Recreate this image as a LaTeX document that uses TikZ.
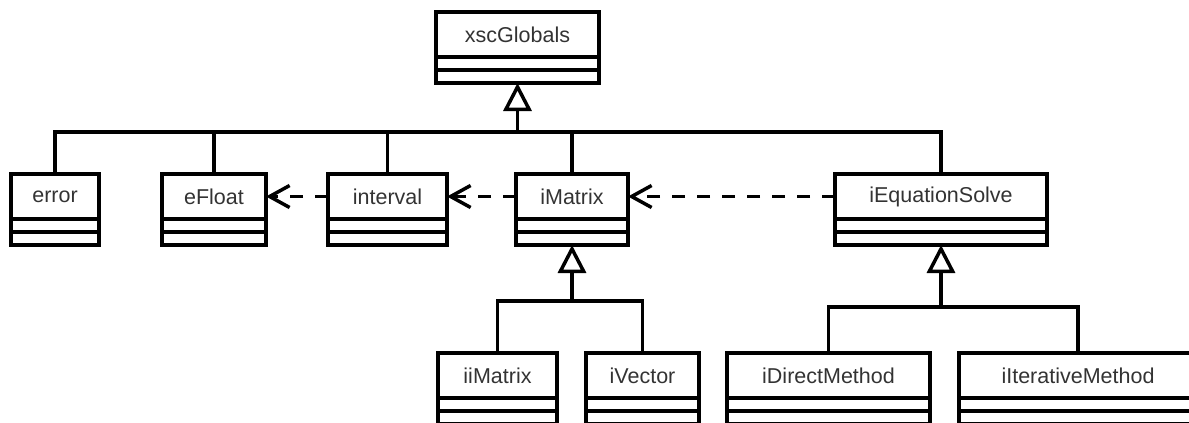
\documentclass[tikz,border=0pt]{standalone}
\usepackage{fontspec}
\setmainfont{Liberation Sans}
\usetikzlibrary{arrows.meta,calc}

\tikzset{
  cls/.style={draw, line width=3.5pt, minimum height=45pt, inner sep=0pt,
    outer sep=0pt, anchor=north west, text=black!80,
    font=\fontsize{21.5}{26}\selectfont},
  part/.style={line width=3.5pt},
  link/.style={line width=3.5pt},
  gen/.style={line width=3.5pt, -{Triangle[open, length=28pt, width=28pt]}},
  dep/.style={line width=3.5pt, dash pattern=on 13pt off 12pt,
    -{Straight Barb[length=20pt, width=22pt]}},
}

% class box: name, left, top, width, label
\newcommand{\umlclass}[5]{%
  \node[cls, minimum width=#4] (#1) at (#2,#3) {#5};
  \draw[part] (#1.south west) rectangle ($(#1.south east)+(0,26)$);
  \draw[part] ($(#1.south west)+(0,13)$) -- ($(#1.south east)+(0,13)$);
  \coordinate (#1-bot) at ($(#1.south)+(0,26)$);
}

\begin{document}
\begin{tikzpicture}[x=1pt, y=-1pt]
  \useasboundingbox (0,0) rectangle (1189,423);
  \clip (0,0) rectangle (1189,423);

  \umlclass{xscGlobals}{436}{12}{163}{xscGlobals}

  \umlclass{error}{11}{174}{88}{error}
  \umlclass{eFloat}{162}{174}{104}{eFloat}
  \umlclass{interval}{328}{174}{119}{interval}
  \umlclass{iMatrix}{516}{174}{112}{iMatrix}
  \umlclass{iEquationSolve}{835}{174}{212}{iEquationSolve}

  \umlclass{iiMatrix}{438}{353}{119}{iiMatrix}
  \umlclass{iVector}{586}{353}{113}{iVector}
  \umlclass{iDirectMethod}{727}{353}{203}{iDirectMethod}
  \umlclass{iIterativeMethod}{959}{353}{238}{iIterativeMethod}

  % generalisation to xscGlobals
  \coordinate (topbus) at ($(xscGlobals-bot)+(0,49)$);
  \draw[gen] (topbus) -- (xscGlobals-bot);
  \foreach \c in {error,eFloat,interval,iMatrix,iEquationSolve}
    \draw[link] (\c.north) |- (topbus);

  % generalisation to iMatrix
  \coordinate (matbus) at ($(iMatrix-bot)+(0,56)$);
  \draw[gen] (matbus) -- (iMatrix-bot);
  \foreach \c in {iiMatrix,iVector}
    \draw[link] (\c.north) |- (matbus);

  % generalisation to iEquationSolve
  \coordinate (solvebus) at ($(iEquationSolve-bot)+(0,62)$);
  \draw[gen] (solvebus) -- (iEquationSolve-bot);
  \foreach \c in {iDirectMethod,iIterativeMethod}
    \draw[link] (\c.north) |- (solvebus);

  % dependencies
  \draw[dep] (interval.west) -- (eFloat.east);
  \draw[dep] (iMatrix.west) -- (interval.east);
  \draw[dep] (iEquationSolve.west) -- (iMatrix.east);
\end{tikzpicture}
\end{document}
